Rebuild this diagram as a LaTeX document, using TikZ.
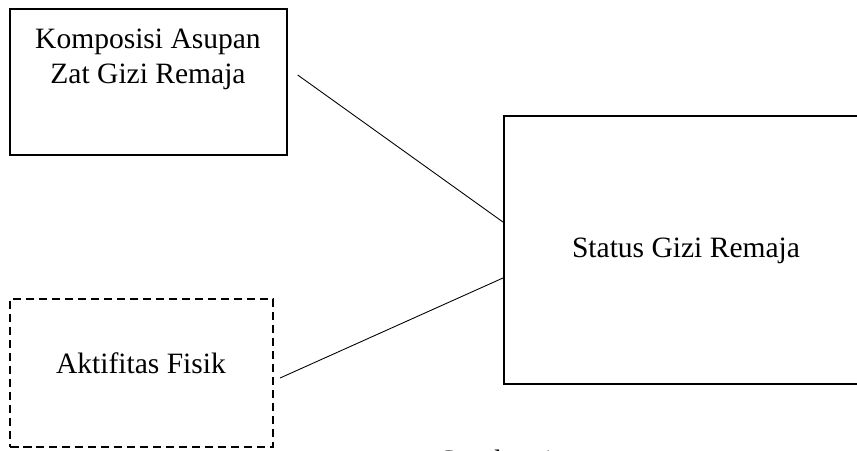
\documentclass[tikz,border=0pt]{standalone}
\usepackage{fontspec}
\setmainfont{Liberation Serif}
\usetikzlibrary{positioning}

\tikzset{
    varbox/.style={rectangle, draw, line width=0.8pt, inner sep=0pt},
    lbl/.style={inner sep=0pt, font=\fontsize{16.8}{19.9}\selectfont, align=center},
    link/.style={line width=0.5pt}
}

\begin{document}
\begin{tikzpicture}
        \useasboundingbox (0,0) rectangle (17.14,-9);
        \draw (2.97,-1.64) node(komposisi) [varbox, minimum width=5.54cm, minimum height=2.92cm]{};
        \node[lbl, anchor=north] (komposisitext) at (2.96,-0.57) {Komposisi Asupan\\ Zat Gizi Remaja};
        \draw (13.74,-5.0) node(status) [varbox, line width=1.2pt, minimum width=7.32cm, minimum height=5.36cm]{};
        \node[lbl, anchor=base] (statustext) at (13.72,-5.14) {Status Gizi Remaja};
        \draw (2.83,-7.46) node(aktifitas) [varbox, line width=1.2pt, dash pattern=on 0.17cm off 0.09cm, minimum width=5.26cm, minimum height=2.96cm]{};
        \node[lbl, anchor=base] (aktifitastext) at (2.82,-7.46) {Aktifitas Fisik};
        \node[lbl, anchor=base] (caption) at (9.92,-9.4) {Gambar 1};
        \draw [link] ([xshift=0.2cm, yshift=0.14cm]komposisi.east) -- ([yshift=0.56cm]status.west);
        \draw [link] ([xshift=0.12cm, yshift=-0.1cm]aktifitas.east) -- ([yshift=-0.56cm]status.west);

    \end{tikzpicture}
\end{document}
